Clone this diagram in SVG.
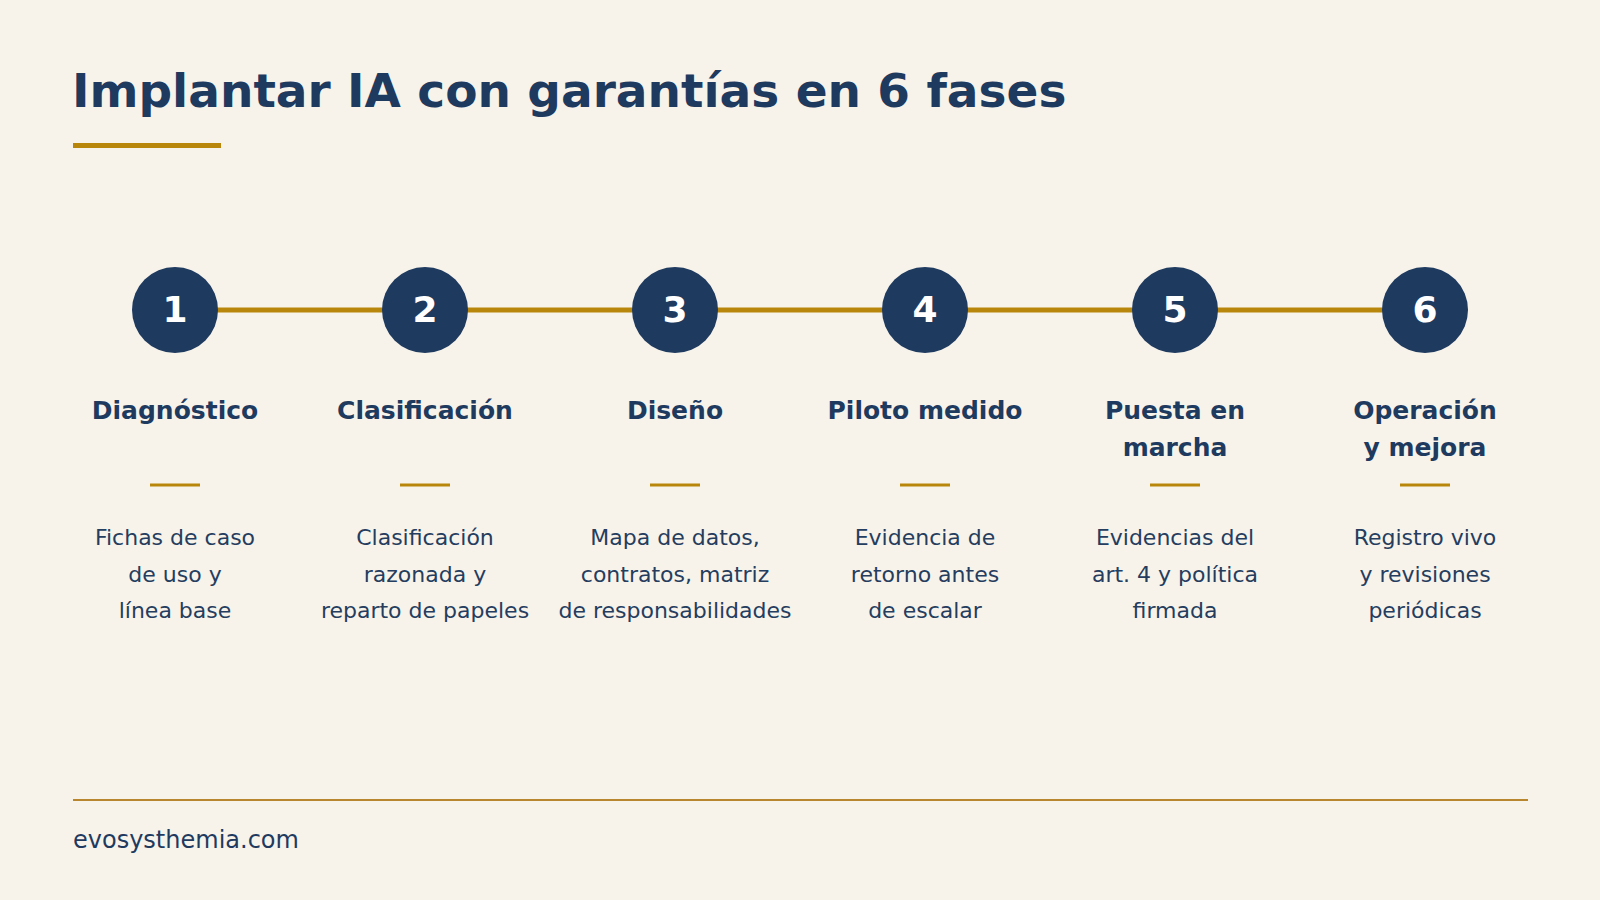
<svg xmlns="http://www.w3.org/2000/svg" width="1600" height="900" viewBox="0 0 1600 900">
<style>
.t{font-family:"DejaVu Sans","Liberation Sans",sans-serif;fill:#1f3a5f}
.title{font-size:47px;font-weight:bold}
.num{font-family:"DejaVu Sans","Liberation Sans",sans-serif;font-size:36px;font-weight:bold;fill:#ffffff;text-anchor:middle}
.head{font-size:25px;font-weight:bold;text-anchor:middle}
.desc{font-size:22px;text-anchor:middle;fill:#253d5e}
.foot{font-size:24px}
.dot{fill:#1f3a5f}
.div{stroke:#b8860b;stroke-width:3}
</style>
<rect x="0" y="0" width="1600" height="900" fill="#f7f3eb"/>
<text class="t title" x="72" y="107">Implantar IA con garantías en 6 fases</text>
<rect x="73" y="143" width="148" height="5" fill="#b8860b"/>
<g id="connectors">
<line x1="175" y1="310" x2="1425" y2="310" stroke="#b8860b" stroke-width="5"/>
</g>
<g id="n1">
<circle class="dot" cx="175" cy="310" r="43"/>
<text class="num" x="175" y="322">1</text>
<text class="t head" x="175" y="419">Diagnóstico</text>
<line class="div" x1="150" y1="485" x2="200" y2="485"/>
<text class="t desc" x="175" y="545">Fichas de caso</text>
<text class="t desc" x="175" y="581.7">de uso y</text>
<text class="t desc" x="175" y="618.3">línea base</text>
</g>
<g id="n2">
<circle class="dot" cx="425" cy="310" r="43"/>
<text class="num" x="425" y="322">2</text>
<text class="t head" x="425" y="419">Clasificación</text>
<line class="div" x1="400" y1="485" x2="450" y2="485"/>
<text class="t desc" x="425" y="545">Clasificación</text>
<text class="t desc" x="425" y="581.7">razonada y</text>
<text class="t desc" x="425" y="618.3">reparto de papeles</text>
</g>
<g id="n3">
<circle class="dot" cx="675" cy="310" r="43"/>
<text class="num" x="675" y="322">3</text>
<text class="t head" x="675" y="419">Diseño</text>
<line class="div" x1="650" y1="485" x2="700" y2="485"/>
<text class="t desc" x="675" y="545">Mapa de datos,</text>
<text class="t desc" x="675" y="581.7">contratos, matriz</text>
<text class="t desc" x="675" y="618.3">de responsabilidades</text>
</g>
<g id="n4">
<circle class="dot" cx="925" cy="310" r="43"/>
<text class="num" x="925" y="322">4</text>
<text class="t head" x="925" y="419">Piloto medido</text>
<line class="div" x1="900" y1="485" x2="950" y2="485"/>
<text class="t desc" x="925" y="545">Evidencia de</text>
<text class="t desc" x="925" y="581.7">retorno antes</text>
<text class="t desc" x="925" y="618.3">de escalar</text>
</g>
<g id="n5">
<circle class="dot" cx="1175" cy="310" r="43"/>
<text class="num" x="1175" y="322">5</text>
<text class="t head" x="1175" y="419">Puesta en</text>
<text class="t head" x="1175" y="456">marcha</text>
<line class="div" x1="1150" y1="485" x2="1200" y2="485"/>
<text class="t desc" x="1175" y="545">Evidencias del</text>
<text class="t desc" x="1175" y="581.7">art. 4 y política</text>
<text class="t desc" x="1175" y="618.3">firmada</text>
</g>
<g id="n6">
<circle class="dot" cx="1425" cy="310" r="43"/>
<text class="num" x="1425" y="322">6</text>
<text class="t head" x="1425" y="419">Operación</text>
<text class="t head" x="1425" y="456">y mejora</text>
<line class="div" x1="1400" y1="485" x2="1450" y2="485"/>
<text class="t desc" x="1425" y="545">Registro vivo</text>
<text class="t desc" x="1425" y="581.7">y revisiones</text>
<text class="t desc" x="1425" y="618.3">periódicas</text>
</g>
<line x1="73" y1="800" x2="1528" y2="800" stroke="#b8862e" stroke-width="2"/>
<text class="t foot" x="73" y="848">evosysthemia.com</text>
</svg>
